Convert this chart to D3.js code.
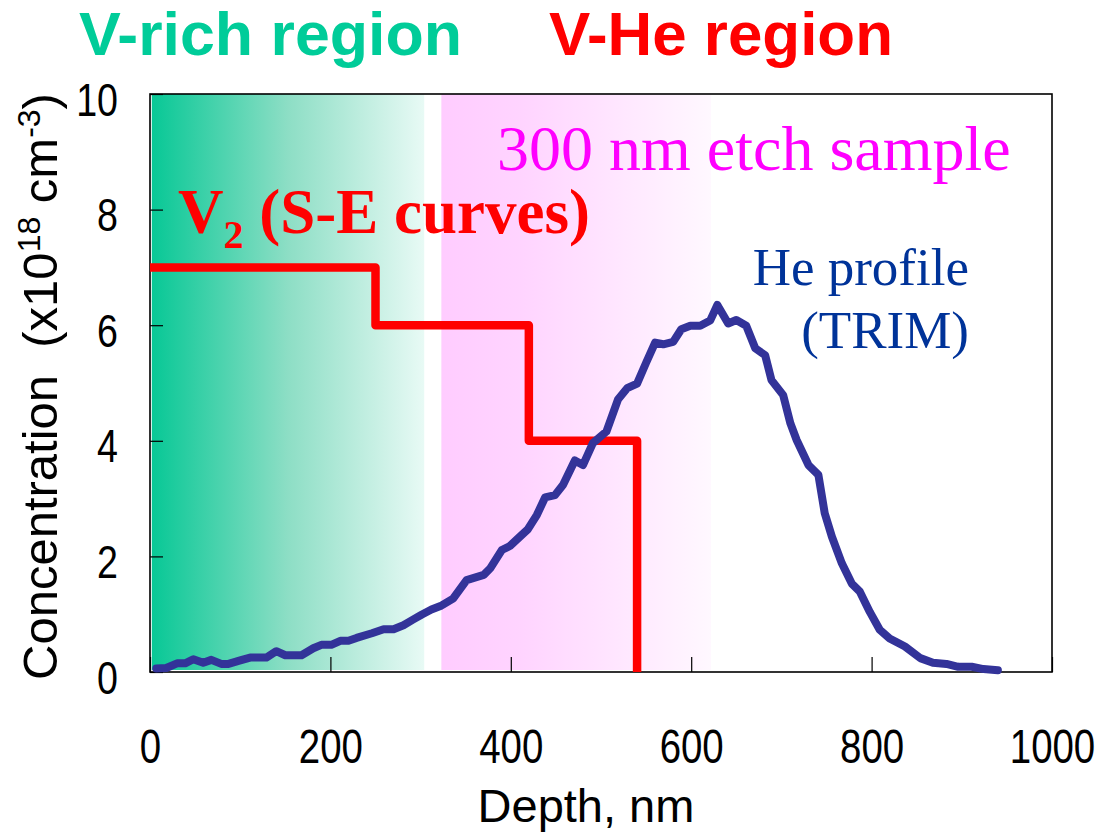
<!DOCTYPE html>
<html>
<head>
<meta charset="utf-8">
<script src="https://cdn.jsdelivr.net/npm/d3@7"></script>
<style>
  html, body { margin: 0; padding: 0; background: #fff; }
  svg { display: block; }
</style>
</head>
<body>
<svg id="chart" width="1098" height="833"></svg>
<script>
// ---- data ----
const xTicks = [0, 200, 400, 600, 800, 1000];
const yTicks = [0, 2, 4, 6, 8, 10];

// He implantation profile computed with TRIM (depth nm, concentration x1e18 cm^-3)
const heDepth = [7, 18, 30, 39, 48, 59, 68, 79, 87, 100, 111, 129, 140, 150, 168, 181, 190, 201, 211, 220,
  229, 246, 259, 270, 281, 292, 301, 312, 322, 336, 351, 370, 377, 390, 399, 410, 419, 429, 438, 449,
  458, 471, 480, 491, 506, 519, 529, 540, 550, 560, 569, 580, 589, 599, 610, 621, 629, 641, 650, 661,
  671, 682, 689, 702, 710, 717, 730, 741, 748, 756, 767, 778, 787, 798, 809, 820, 837, 854, 868, 883,
  896, 911, 924, 940];
const heConc = [0.06, 0.07, 0.15, 0.15, 0.22, 0.16, 0.21, 0.14, 0.14, 0.20, 0.25, 0.25, 0.36, 0.29, 0.29, 0.41, 0.47, 0.47, 0.54, 0.54,
  0.59, 0.67, 0.74, 0.74, 0.81, 0.91, 0.99, 1.08, 1.14, 1.27, 1.59, 1.68, 1.79, 2.11, 2.18, 2.34, 2.47, 2.72, 3.02, 3.06,
  3.24, 3.66, 3.58, 3.96, 4.16, 4.72, 4.91, 4.99, 5.35, 5.70, 5.67, 5.71, 5.93, 5.99, 5.99, 6.08, 6.35, 6.03, 6.09, 5.99,
  5.60, 5.48, 5.05, 4.79, 4.30, 4.01, 3.58, 3.41, 2.75, 2.34, 1.88, 1.53, 1.39, 1.04, 0.73, 0.58, 0.44, 0.24, 0.16, 0.14,
  0.09, 0.09, 0.05, 0.03];

// V2 concentration from S-E curves (step profile, value holds until next depth)
const stepDepth = [0, 250, 420, 540];
const stepConc = [7, 6, 4, 0];

// shaded depth bands
const vRichRange = [2, 304];
const vHeRange = [323, 622];

// ---- layout ----
const svg = d3.select("#chart");
const plotLeft = 150, plotRight = 1052, plotTop = 94, plotBottom = 672;

const x = d3.scaleLinear().domain([0, 1000]).range([plotLeft, plotRight]);
const y = d3.scaleLinear().domain([0, 10]).range([plotBottom, plotTop]);

const defs = svg.append("defs");
const gGreen = defs.append("linearGradient").attr("id", "gradGreen")
  .attr("x1", "0%").attr("x2", "100%").attr("y1", "0%").attr("y2", "0%");
gGreen.append("stop").attr("offset", "0%").attr("stop-color", "#08c896");
gGreen.append("stop").attr("offset", "50%").attr("stop-color", "#8ddec5");
gGreen.append("stop").attr("offset", "100%").attr("stop-color", "#e8faf5");

const gPink = defs.append("linearGradient").attr("id", "gradPink")
  .attr("x1", "0%").attr("x2", "100%").attr("y1", "0%").attr("y2", "0%");
gPink.append("stop").attr("offset", "0%").attr("stop-color", "#ffccff");
gPink.append("stop").attr("offset", "30%").attr("stop-color", "#ffd4ff");
gPink.append("stop").attr("offset", "100%").attr("stop-color", "#fff8ff");

// depth bands
svg.append("rect")
  .attr("x", x(vRichRange[0])).attr("width", x(vRichRange[1]) - x(vRichRange[0]))
  .attr("y", y(10)).attr("height", y(0) - y(10) - 2)
  .attr("fill", "url(#gradGreen)");
svg.append("rect")
  .attr("x", x(vHeRange[0])).attr("width", x(vHeRange[1]) - x(vHeRange[0]))
  .attr("y", y(10)).attr("height", y(0) - y(10) - 2)
  .attr("fill", "url(#gradPink)");

// axes (ticks point inward)
const tickFont = "'Liberation Sans', Arial, sans-serif";
const squeeze = 0.8;

const xAxis = svg.append("g").attr("transform", `translate(0,${plotBottom})`)
  .call(d3.axisBottom(x).tickValues(xTicks).tickFormat(d3.format("d")).tickSize(-15).tickPadding(0));
xAxis.select(".domain").remove();
xAxis.selectAll("line").attr("stroke", "#000").attr("stroke-width", 1.2);
xAxis.selectAll("text")
  .attr("y", 91).attr("dy", 0)
  .attr("transform", `scale(${squeeze},1)`)
  .style("font-family", tickFont).style("font-size", "48px").attr("fill", "#000");

const yAxis = svg.append("g").attr("transform", `translate(${plotLeft},0)`)
  .call(d3.axisLeft(y).tickValues(yTicks).tickFormat(d3.format("d")).tickSize(-13).tickPadding(0));
yAxis.select(".domain").remove();
yAxis.selectAll("line").attr("stroke", "#000").attr("stroke-width", 1.2);
yAxis.selectAll("text")
  .attr("x", -32 / squeeze).attr("dy", 21)
  .attr("transform", `scale(${squeeze},1)`)
  .style("font-family", tickFont).style("font-size", "47px").attr("fill", "#000");

// plot frame
svg.append("rect")
  .attr("x", plotLeft).attr("y", plotTop).attr("width", plotRight - plotLeft).attr("height", plotBottom - plotTop)
  .attr("fill", "none").attr("stroke", "#000").attr("stroke-width", 1.6);

// V2 step profile
const steps = stepDepth.map((d, i) => [d, stepConc[i]]);
svg.append("path")
  .datum(steps)
  .attr("d", d3.line().x(d => x(d[0])).y(d => y(d[1])).curve(d3.curveStepAfter))
  .attr("fill", "none").attr("stroke", "#ff0000").attr("stroke-width", 8.5)
  .attr("stroke-linejoin", "round");

// He profile
const he = heDepth.map((d, i) => [d, heConc[i]]);
svg.append("path")
  .datum(he)
  .attr("d", d3.line().x(d => x(d[0])).y(d => y(d[1])))
  .attr("fill", "none").attr("stroke", "#333399").attr("stroke-width", 8)
  .attr("stroke-linejoin", "round").attr("stroke-linecap", "round");

// region headings
const sans = "'Liberation Sans', Arial, sans-serif";
const serif = "'Liberation Serif', 'Times New Roman', serif";
svg.append("text").text("V-rich region")
  .attr("x", 79).attr("y", 55)
  .attr("textLength", 383).attr("lengthAdjust", "spacingAndGlyphs")
  .style("font-family", sans).style("font-size", "62px").style("font-weight", "bold")
  .attr("fill", "#00cc99");
svg.append("text").text("V-He region")
  .attr("x", 549).attr("y", 55)
  .attr("textLength", 344).attr("lengthAdjust", "spacingAndGlyphs")
  .style("font-family", sans).style("font-size", "62px").style("font-weight", "bold")
  .attr("fill", "#ff0000");

// annotations
svg.append("text").text("300 nm etch sample")
  .attr("x", 497).attr("y", 170)
  .style("font-family", serif).style("font-size", "64px").attr("fill", "#ff00ff");

const v2 = svg.append("text")
  .attr("x", 178).attr("y", 233)
  .style("font-family", serif).style("font-size", "63px").style("font-weight", "bold")
  .attr("fill", "#ff0000");
v2.append("tspan").text("V");
v2.append("tspan").text("2").style("font-size", "40px").attr("dy", 15);
v2.append("tspan").text(" (S-E curves)").attr("dy", -15);

svg.append("text").text("He profile")
  .attr("x", 969).attr("y", 285).attr("text-anchor", "end")
  .style("font-family", serif).style("font-size", "53px").attr("fill", "#003399");
svg.append("text").text("(TRIM)")
  .attr("x", 969).attr("y", 348).attr("text-anchor", "end")
  .style("font-family", serif).style("font-size", "53px").attr("fill", "#003399");

// axis titles
svg.append("text").text("Depth, nm")
  .attr("x", 586).attr("y", 822).attr("text-anchor", "middle")
  .style("font-family", sans).style("font-size", "47px").attr("fill", "#000");

const yt = svg.append("text")
  .attr("transform", "translate(57,680) rotate(-90)")
  .style("font-family", sans).style("font-size", "49px").attr("fill", "#000");
yt.append("tspan").text("Concentration\u00a0\u00a0(x10");
yt.append("tspan").text("18").style("font-size", "32px").attr("dy", -17);
yt.append("tspan").text(" cm").attr("dy", 17);
yt.append("tspan").text("-3").style("font-size", "32px").attr("dy", -17);
yt.append("tspan").text(")").attr("dy", 17);
</script>
</body>
</html>
